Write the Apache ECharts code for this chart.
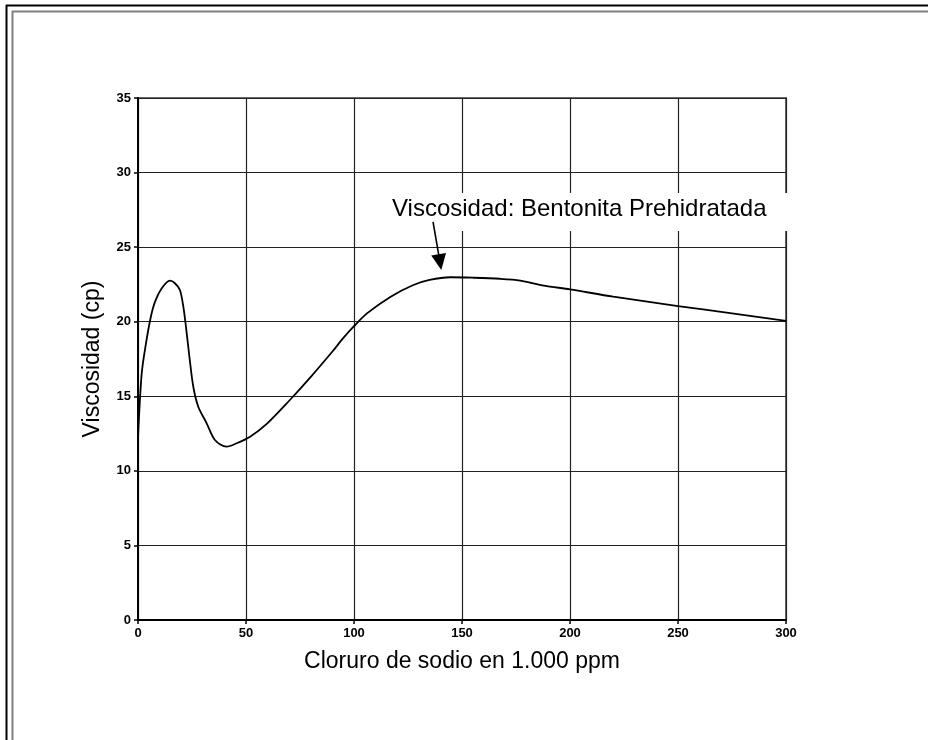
<!DOCTYPE html>
<html>
<head>
<meta charset="utf-8">
<script src="https://cdn.jsdelivr.net/npm/echarts@6/dist/echarts.min.js"></script>
<style>html,body{margin:0;padding:0;background:#fff}#c{width:928px;height:740px}</style>
</head>
<body>
<div id="c"></div>
<script>
const xTicks = [0, 50, 100, 150, 200, 250, 300];
const yTicks = [0, 5, 10, 15, 20, 25, 30, 35];
const sodio = [0, 1.7, 3.7, 5.9, 7.9, 11, 14.8, 17.1, 19.4, 21, 22.2, 23.8, 25.6, 27.9, 31.8, 35.6, 41, 45.7, 51.9, 60, 70, 80, 90, 95, 100, 106, 117, 127.5, 135, 144.5, 155, 167.5, 177, 188, 200, 220, 250, 275, 300];
const viscosidad = [12.2, 16.5, 18.55, 20.3, 21.35, 22.24, 22.75, 22.58, 22.13, 21.0, 19.67, 17.65, 15.64, 14.3, 13.19, 12.07, 11.62, 11.85, 12.29, 13.2, 14.7, 16.3, 18.0, 18.9, 19.7, 20.56, 21.68, 22.46, 22.8, 22.98, 22.95, 22.88, 22.76, 22.42, 22.17, 21.68, 21.05, 20.56, 20.05];
const annotationText = 'Viscosidad: Bentonita Prehidratada';
const arrowFrom = [136.6, 26.7];
const arrowTo = [139.8, 24.0];

const chart = echarts.init(document.getElementById('c'));
const font = 'Arial, "Liberation Sans", sans-serif';
chart.setOption({
  animation: false,
  backgroundColor: '#fff',
  grid: { left: 138, right: 142, top: 98, bottom: 120, show: true, borderColor: '#6a6a6a', borderWidth: 2, backgroundColor: 'transparent' },
  xAxis: {
    type: 'value', min: 0, max: 300, interval: 50,
    name: 'Cloruro de sodio en 1.000 ppm', nameLocation: 'middle', nameGap: 30,
    nameTextStyle: { fontFamily: font, fontSize: 23, color: '#000' },
    axisLine: { show: true, lineStyle: { color: '#000', width: 2 } },
    axisTick: { show: true, length: 4, lineStyle: { color: '#000', width: 1.5 } },
    axisLabel: { fontFamily: font, fontSize: 13, fontWeight: 'bold', color: '#000', margin: 7 },
    splitLine: { show: true, lineStyle: { color: '#222', width: 1.2 } }
  },
  yAxis: {
    type: 'value', min: 0, max: 35, interval: 5,
    name: 'Viscosidad (cp)', nameLocation: 'middle', nameGap: 34,
    nameTextStyle: { fontFamily: font, fontSize: 23, color: '#000' },
    axisLine: { show: true, lineStyle: { color: '#000', width: 2 } },
    axisTick: { show: true, length: 4, lineStyle: { color: '#000', width: 1.5 } },
    axisLabel: { fontFamily: font, fontSize: 13, fontWeight: 'bold', color: '#000', margin: 7 },
    splitLine: { show: true, lineStyle: { color: '#222', width: 1.2 } }
  },
  graphic: [
    { type: 'line', z: 10, shape: { x1: 6.5, y1: 5, x2: 6.5, y2: 740 }, style: { stroke: '#000', lineWidth: 2 } },
    { type: 'line', z: 10, shape: { x1: 6, y1: 5.5, x2: 928, y2: 5.5 }, style: { stroke: '#000', lineWidth: 2 } },
    { type: 'line', z: 10, shape: { x1: 12.5, y1: 11, x2: 12.5, y2: 740 }, style: { stroke: '#808080', lineWidth: 2 } },
    { type: 'line', z: 10, shape: { x1: 12, y1: 11.5, x2: 928, y2: 11.5 }, style: { stroke: '#808080', lineWidth: 2 } },
    { type: 'rect', z: 1, shape: { x: 383, y: 193, width: 408, height: 38 }, style: { fill: '#fff' } },
    { type: 'text', z: 1, left: 392, top: 197, style: { text: annotationText, font: '24px ' + font, fill: '#000' } }
  ],
  series: [{
    type: 'line',
    data: sodio.map((x, i) => [x, viscosidad[i]]),
    smooth: 0.3,
    showSymbol: false,
    lineStyle: { color: '#000', width: 1.8 },
    z: 3,
    markLine: {
      silent: true,
      symbol: ['none', 'triangle'],
      symbolSize: [15, 16],
      lineStyle: { color: '#000', width: 1.6, type: 'solid' },
      label: { show: false },
      data: [[{ coord: arrowFrom }, { coord: arrowTo }]]
    }
  }]
});
</script>
</body>
</html>
